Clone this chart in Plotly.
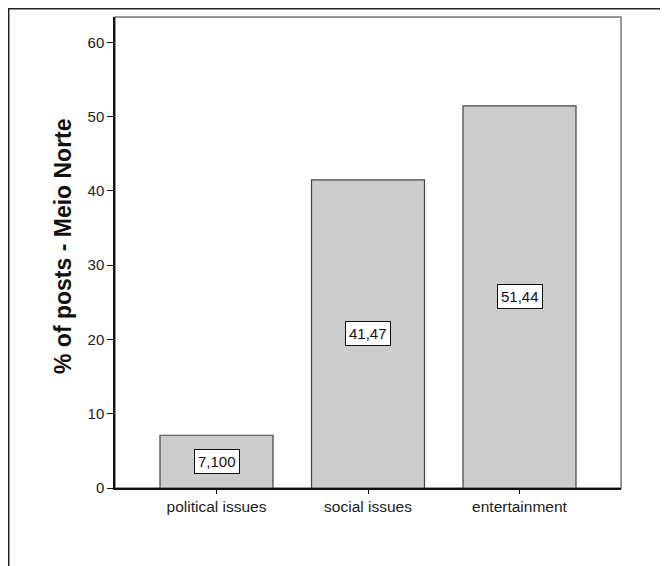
import plotly.graph_objects as go

categories = ["political issues", "social issues", "entertainment"]
values = [7.1, 41.47, 51.44]
value_labels = ["7,100", "41,47", "51,44"]
y_ticks = [0, 10, 20, 30, 40, 50, 60]
y_title = "% of posts - Meio Norte"

FONT = "Arial, Liberation Sans, sans-serif"

# page body has an 8px margin, so the figure is drawn 8px smaller
W, H = 660, 558
L, T = 107, 9
PR, PB = 613, 480          # plot right / bottom edges in figure px
R, B = W - PR, H - PB
pw, ph = W - L - R, H - T - B

def px(xp):
    return (xp - L) / pw

def py(yp):
    return (PB - yp) / ph

fig = go.Figure()
fig.add_trace(go.Bar(
    x=list(range(len(categories))), y=values, width=0.746,
    marker=dict(color="#cccccc", line=dict(color="#444444", width=1.2)),
    hoverinfo="skip",
))

for i, (v, lab) in enumerate(zip(values, value_labels)):
    fig.add_annotation(x=i, y=v / 2, text=lab, showarrow=False,
                       font=dict(family=FONT, size=15, color="#111111"),
                       bgcolor="white", bordercolor="#111111", borderwidth=1, borderpad=3)

fig.add_annotation(xref="paper", yref="paper", x=px(55), y=py(238), text=y_title,
                   textangle=-90, showarrow=False, xanchor="center", yanchor="middle",
                   font=dict(family=FONT, size=23, color="#111111", weight="bold"))

shapes = [
    dict(type="rect", xref="paper", yref="paper", x0=0, x1=1, y0=0, y1=1,
         line=dict(color="#777777", width=1.5), layer="below"),
    dict(type="line", xref="paper", yref="paper", x0=px(0), x1=px(W), y0=py(0.5), y1=py(0.5),
         line=dict(color="#222222", width=2)),
    dict(type="line", xref="paper", yref="paper", x0=px(0.5), x1=px(0.5), y0=py(0), y1=py(H),
         line=dict(color="#222222", width=2)),
]

fig.update_layout(
    width=W, height=H,
    margin=dict(l=L, r=R, t=T, b=B, pad=0),
    paper_bgcolor="white", plot_bgcolor="white",
    showlegend=False,
    shapes=shapes,
    font=dict(family=FONT, size=15, color="#222222"),
    xaxis=dict(
        range=[-0.67, 2.67], tickmode="array",
        tickvals=list(range(len(categories))), ticktext=categories,
        showgrid=False, zeroline=False, showline=True, linecolor="#111111", linewidth=1.5,
        ticks="outside", ticklen=4, tickcolor="#111111",
        tickfont=dict(family=FONT, size=15.5, color="#222222"),
    ),
    yaxis=dict(
        range=[0, 63.4], tickmode="array", tickvals=y_ticks,
        showgrid=False, zeroline=False, showline=True, linecolor="#111111", linewidth=1.5,
        ticks="outside", ticklen=6, tickcolor="#111111",
        tickfont=dict(family=FONT, size=15, color="#222222"),
    ),
)

fig.write_html("out.html")
